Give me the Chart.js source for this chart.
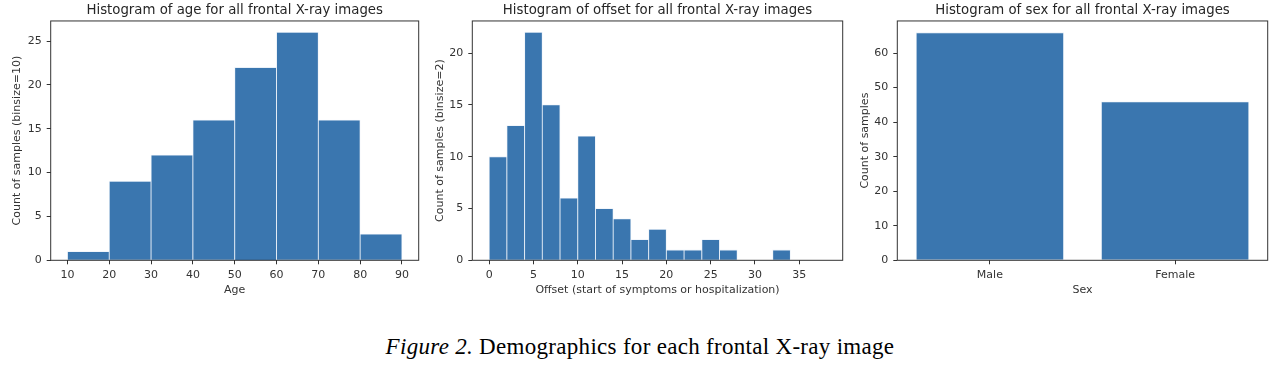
<!DOCTYPE html>
<html>
<head>
<meta charset="utf-8">
<script src="https://cdn.jsdelivr.net/npm/chart.js@4.4.1/dist/chart.umd.min.js"></script>
<style>
  html, body { margin: 0; padding: 0; background: #fff; }
  body { width: 1280px; height: 371px; position: relative; overflow: hidden; }
  canvas { position: absolute; top: 0; }
  #caption {
    position: absolute; left: 0; top: 335px; width: 1280px;
    text-align: center; font-family: "Liberation Serif", serif;
    font-size: 23px; line-height: 24px; letter-spacing: 0.3px; color: #000;
  }
</style>
</head>
<body>
<canvas id="chartAge" width="430" height="300" style="left:0px"></canvas>
<canvas id="chartOffset" width="430" height="300" style="left:420px"></canvas>
<canvas id="chartSex" width="435" height="300" style="left:845px"></canvas>
<div id="caption"><i>Figure 2.</i> Demographics for each frontal X-ray image</div>

<script>
// age histogram, binsize 10
const ageEdges = [10, 20, 30, 40, 50, 60, 70, 80, 90];
const ageCounts = [1, 9, 12, 16, 22, 26, 16, 3];
const ageTicksX = [10, 20, 30, 40, 50, 60, 70, 80, 90];
const ageTicksY = [0, 5, 10, 15, 20, 25];

// offset histogram, binsize 2
const offsetEdges = [0, 2, 4, 6, 8, 10, 12, 14, 16, 18, 20, 22, 24, 26, 28, 30, 32, 34, 36, 38];
const offsetCounts = [10, 13, 22, 15, 6, 12, 5, 4, 2, 3, 1, 1, 2, 1, 0, 0, 1, 0, 0];
const offsetTicksX = [0, 5, 10, 15, 20, 25, 30, 35];
const offsetTicksY = [0, 5, 10, 15, 20];

// sex counts
const sexLabels = ["Male", "Female"];
const sexCounts = [66, 46];
const sexTicksY = [0, 10, 20, 30, 40, 50, 60];

const BLUE = "#3a76af";
const INK = "#333333";
const FS = 11;

Chart.defaults.font.family = "'DejaVu Sans', sans-serif";
Chart.defaults.color = INK;
Chart.defaults.animation = false;

const frame = {
  id: "frame",
  afterDraw(chart){
    const a = chart.chartArea;
    const ctx = chart.ctx;
    ctx.save();
    ctx.strokeStyle = INK;
    ctx.lineWidth = 1;
    ctx.strokeRect(a.left, a.top, a.right - a.left, a.bottom - a.top);
    ctx.restore();
  }
};

function toBins(edges, counts){
  return counts.map((c, i) => ({ x: (edges[i] + edges[i + 1]) / 2, y: c }));
}

function padded(lo, hi){
  const m = (hi - lo) * 0.05;
  return [lo - m, hi + m];
}

function fixTicks(values){
  return (axis) => { axis.ticks = values.map(v => ({ value: v })); };
}

function yAxis(title, ticks, top, width, titlePad){
  return {
    min: 0,
    max: top * 1.05,
    afterBuildTicks: fixTicks(ticks),
    afterFit: (s) => { s.width = width; },
    border: { display: false },
    grid: { drawOnChartArea: false, drawTicks: true, tickLength: 4, color: INK },
    ticks: { padding: 5, font: { size: FS }, color: INK },
    title: { display: true, text: title, font: { size: FS }, color: INK, padding: { top: titlePad, bottom: 0 } }
  };
}

function xAxisBase(title){
  return {
    offset: false,
    afterFit: (s) => { s.height = 36; },
    border: { display: false },
    grid: { offset: false, drawOnChartArea: false, drawTicks: true, tickLength: 4, color: INK },
    ticks: { padding: 4.5, font: { size: FS }, color: INK, maxRotation: 0, autoSkip: false },
    title: { display: true, text: title, font: { size: FS }, color: INK, padding: { top: 0.5, bottom: 0 } }
  };
}

function baseOptions(title, padRight){
  return {
    responsive: false,
    layout: { padding: { left: 0, right: padRight, top: 0, bottom: 3.7 } },
    plugins: {
      legend: { display: false },
      tooltip: { enabled: false },
      title: {
        display: true, text: title, fullSize: false, color: "#262626",
        font: { size: 13.3, weight: "normal", lineHeight: 1.2 },
        padding: { top: 2.5, bottom: 2.5 }
      }
    }
  };
}

function histDataset(edges, counts){
  return {
    data: toBins(edges, counts),
    backgroundColor: BLUE,
    borderColor: "rgba(225,235,246,0.75)",
    borderWidth: 0.8,
    barPercentage: 1,
    categoryPercentage: 1
  };
}

// age
const ageRange = padded(ageEdges[0], ageEdges[ageEdges.length - 1]);
const ageOpts = baseOptions("Histogram of age for all frontal X-ray images", 11.3);
ageOpts.scales = {
  x: Object.assign(xAxisBase("Age"), { type: "linear", min: ageRange[0], max: ageRange[1], afterBuildTicks: fixTicks(ageTicksX) }),
  y: yAxis("Count of samples (binsize=10)", ageTicksY, Math.max(...ageCounts), 50.7, 10.5)
};
new Chart(document.getElementById("chartAge"), {
  type: "bar",
  data: { datasets: [histDataset(ageEdges, ageCounts)] },
  options: ageOpts,
  plugins: [frame]
});

// offset
const offRange = padded(offsetEdges[0], offsetEdges[offsetEdges.length - 1]);
const offOpts = baseOptions("Histogram of offset for all frontal X-ray images", 7.3);
offOpts.scales = {
  x: Object.assign(xAxisBase("Offset (start of symptoms or hospitalization)"), { type: "linear", min: offRange[0], max: offRange[1], afterBuildTicks: fixTicks(offsetTicksX) }),
  y: yAxis("Count of samples (binsize=2)", offsetTicksY, Math.max(...offsetCounts), 52.3, 13.5)
};
new Chart(document.getElementById("chartOffset"), {
  type: "bar",
  data: { datasets: [histDataset(offsetEdges, offsetCounts)] },
  options: offOpts,
  plugins: [frame]
});

// sex
const sexOpts = baseOptions("Histogram of sex for all frontal X-ray images", 12.3);
const sexX = xAxisBase("Sex");
sexX.offset = true;
sexOpts.scales = {
  x: sexX,
  y: yAxis("Count of samples", sexTicksY, Math.max(...sexCounts), 52.3, 13.5)
};
new Chart(document.getElementById("chartSex"), {
  type: "bar",
  data: {
    labels: sexLabels,
    datasets: [{
      data: sexCounts,
      backgroundColor: BLUE,
      borderColor: "rgba(225,235,246,0.75)",
      borderWidth: 0.8,
      barPercentage: 0.8,
      categoryPercentage: 1
    }]
  },
  options: sexOpts,
  plugins: [frame]
});
</script>
</body>
</html>
